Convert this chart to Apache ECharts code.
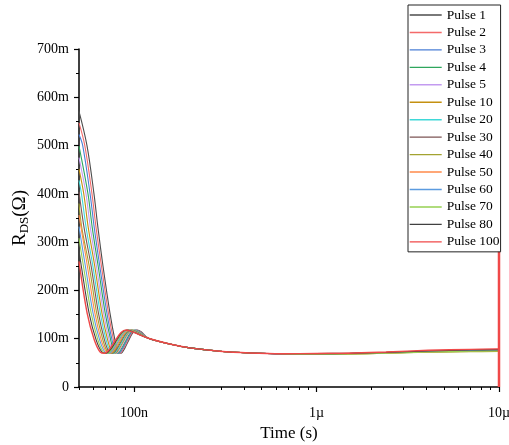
<!DOCTYPE html>
<html>
<head>
<meta charset="utf-8">
<script src="https://cdn.jsdelivr.net/npm/echarts@6/dist/echarts.min.js"></script>
<style>
  html, body { margin: 0; padding: 0; background: #fff; }
  #chart { width: 509px; height: 445px; }
</style>
</head>
<body>
<div id="chart"></div>
<script>
// Drain-source resistance transients, time in ns, resistance in mΩ
const pulseNames = ['Pulse 1', 'Pulse 2', 'Pulse 3', 'Pulse 4', 'Pulse 5', 'Pulse 10', 'Pulse 20',
  'Pulse 30', 'Pulse 40', 'Pulse 50', 'Pulse 60', 'Pulse 70', 'Pulse 80', 'Pulse 100'];

const pulse1 = [[50,571],[55.3,500],[60.4,400],[63.5,330],[67.7,250],[73.9,153],[78.6,98],[82,72],[85,70],[89,80],[94,98],[99,113],[104,118],[110,114],[120,101],[157,89],[202,81],[295,74],[430,70.5],[652,69],[1000,69],[1500,69.5],[2400,71.5],[4100,74.5],[7000,76.5],[10000,77]];
const pulse2 = [[50,547],[53.8,500],[58.9,400],[62,330],[66.4,250],[72.5,153],[77.2,98],[80.7,72],[83.8,70],[87.8,80],[92.9,98],[97.9,113],[103,118],[109.1,114],[120,101],[157,89],[202,81],[295,74],[430,70.5],[652,69],[1000,69.5],[1500,70],[2400,72],[4100,75],[7000,77],[10000,78]];
const pulse3 = [[50,523],[52.4,500],[57.5,400],[60.6,330],[65,250],[71.1,153],[75.8,98],[79.5,72],[82.5,70],[86.7,80],[91.8,98],[96.8,113],[101.9,118],[108.2,114],[120,101],[157,89],[202,81],[295,74],[430,70.5],[652,69],[1000,68.5],[1500,69],[2400,71],[4100,74],[7000,75.5],[10000,76]];
const pulse4 = [[50,499],[56,400],[59.1,330],[63.7,250],[69.6,153],[74.5,98],[78.2,72],[81.3,70],[85.5,80],[90.7,98],[95.8,113],[100.9,118],[107.2,114],[120,101],[157,89],[202,81],[295,74],[430,70.5],[652,69],[1000,69],[1500,69.5],[2400,71.5],[4100,74],[7000,76],[10000,77]];
const pulse5 = [[50,475],[54.6,400],[57.7,330],[62.3,250],[68.2,153],[73.1,98],[76.9,72],[80.1,70],[84.4,80],[89.5,98],[94.7,113],[99.8,118],[106.3,114],[120,101],[157,89],[202,81],[295,74],[430,70.5],[652,69],[1000,68.5],[1500,69],[2400,71],[4100,73.5],[7000,75],[10000,76]];
const pulse10 = [[50,451],[53.1,400],[56.2,330],[61,250],[66.8,153],[71.7,98],[75.7,72],[78.8,70],[83.2,80],[88.4,98],[93.6,113],[98.8,118],[105.4,114],[120,101],[157,89],[202,81],[295,74],[430,70.5],[652,69],[1000,68],[1500,68.5],[2400,70],[4100,72.5],[7000,73.5],[10000,74]];
const pulse20 = [[50,428],[51.6,400],[54.7,330],[59.6,250],[65.4,153],[70.3,98],[74.4,72],[77.6,70],[82.1,80],[87.3,98],[92.5,113],[97.8,118],[104.5,114],[120,101],[157,89],[202,81],[295,74],[430,70.5],[652,69],[1000,69],[1500,69],[2400,71],[4100,74],[7000,75.5],[10000,76]];
const pulse30 = [[50,404],[53.3,330],[58.3,250],[63.9,153],[68.9,98],[73.1,72],[76.4,70],[80.9,80],[86.2,98],[91.5,113],[96.7,118],[103.5,114],[120,101],[157,89],[202,81],[295,74],[430,70.5],[652,69],[1000,69.5],[1500,70],[2400,71.5],[4100,74.5],[7000,76.5],[10000,77]];
const pulse40 = [[50,380],[51.8,330],[56.9,250],[62.5,153],[67.5,98],[71.8,72],[75.2,70],[79.8,80],[85.1,98],[90.4,113],[95.7,118],[102.6,114],[120,101],[157,89],[202,81],[295,74],[430,70.5],[652,69],[1000,68],[1500,68.5],[2400,70],[4100,72],[7000,73],[10000,73.5]];
const pulse50 = [[50,356],[55.6,250],[61.1,153],[66.1,98],[70.6,72],[73.9,70],[78.6,80],[84,98],[89.3,113],[94.6,118],[101.7,114],[120,101],[157,89],[202,81],[295,74],[430,70.5],[652,69],[1000,68.5],[1500,69],[2400,70.5],[4100,73],[7000,74.5],[10000,75]];
const pulse60 = [[50,332],[54.2,250],[59.7,153],[64.8,98],[69.3,72],[72.7,70],[77.5,80],[82.9,98],[88.2,113],[93.6,118],[100.8,114],[120,101],[157,89],[202,81],[295,74],[430,70.5],[652,69],[1000,69],[1500,69.5],[2400,71],[4100,74],[7000,75.5],[10000,76]];
const pulse70 = [[50,308],[52.9,250],[58.3,153],[63.4,98],[68,72],[71.5,70],[76.3,80],[81.7,98],[87.2,113],[92.6,118],[99.8,114],[120,101],[157,89],[202,81],[295,74],[430,70.5],[652,69],[1000,68],[1500,68.5],[2400,70],[4100,72.5],[7000,74],[10000,74.5]];
const pulse80 = [[50,284],[51.5,250],[56.8,153],[62,98],[66.8,72],[70.2,70],[75.2,80],[80.6,98],[86.1,113],[91.5,118],[98.9,114],[120,101],[157,89],[202,81],[295,74],[430,70.5],[652,69],[1000,69],[1500,69.5],[2400,71.5],[4100,74.5],[7000,76.5],[10000,77]];
const pulse100 = [[50,260],[55.4,153],[60.6,98],[65.5,72],[69,70],[74,80],[79.5,98],[85,113],[90.5,118],[98,114],[120,101],[157,89],[202,81],[295,74],[430,70.5],[652,69],[1000,69.5],[1500,70],[2400,72.5],[4100,76],[7000,78],[10000,79]];
// final trace of pulse 100 jumps vertically at the end of the window
const pulse100End = [[10000,0],[10000,700]];

const pulseData = [pulse1, pulse2, pulse3, pulse4, pulse5, pulse10, pulse20,
  pulse30, pulse40, pulse50, pulse60, pulse70, pulse80, pulse100];

const xLabelTicks = [100, 1000, 10000];
const xMinorTicks = [50, 60, 70, 80, 90, 200, 300, 400, 500, 600, 700, 800, 900,
  2000, 3000, 4000, 5000, 6000, 7000, 8000, 9000];

const colors = ['#4d4d4d', '#f46a6a', '#4a7fd6', '#2ea65c', '#c39bf0', '#c49010', '#3fd8d8',
  '#7d5555', '#a3a331', '#ff8a4a', '#5b9be0', '#96d052', '#404040', '#f04848'];

const FONT = '"Liberation Serif", "Times New Roman", serif';

const series = pulseData.map((d, i) => ({
  name: pulseNames[i],
  type: 'line',
  data: d,
  symbol: 'none',
  smooth: 0.35,
  xAxisIndex: 0,
  yAxisIndex: 0,
  lineStyle: { color: colors[i], width: i === pulseData.length - 1 ? 1.4 : 1.1 },
  itemStyle: { color: colors[i] }
}));
series.push({
  name: 'Pulse 100',
  type: 'line',
  data: pulse100End,
  symbol: 'none',
  xAxisIndex: 0,
  yAxisIndex: 0,
  lineStyle: { color: colors[13], width: 2.5 },
  itemStyle: { color: colors[13] }
});

function timeLabel(v) {
  if (v >= 1000) return (v / 1000) + 'µ';
  return v + 'n';
}

const chart = echarts.init(document.getElementById('chart'), null, { renderer: 'canvas' });
chart.setOption({
  animation: false,
  backgroundColor: '#fff',
  grid: { left: 79, right: 10, top: 49, bottom: 58, outerBoundsMode: 'none' },
  legend: {
    data: pulseNames,
    orient: 'vertical',
    left: 408,
    top: 5,
    padding: [3, 1, 3, 1],
    itemWidth: 32,
    itemHeight: 14,
    itemGap: 3.45,
    borderColor: '#222',
    borderWidth: 1,
    borderRadius: 0,
    backgroundColor: '#fff',
    itemStyle: { opacity: 0 },
    lineStyle: { width: 1.4 },
    textStyle: { fontFamily: FONT, fontSize: 13.5, color: '#000' }
  },
  xAxis: [
    {
      type: 'log',
      logBase: 10,
      min: 50,
      max: 10000,
      name: 'Time (s)',
      nameLocation: 'middle',
      nameGap: 35,
      nameTextStyle: { fontFamily: FONT, fontSize: 17, color: '#000' },
      axisLine: { show: true, lineStyle: { color: '#000', width: 1.5 } },
      axisTick: { show: true, customValues: xLabelTicks, length: 5, lineStyle: { color: '#000', width: 1.2 } },
      axisLabel: { customValues: xLabelTicks, formatter: timeLabel, margin: 19,
        fontFamily: FONT, fontSize: 14, color: '#000' },
      splitLine: { show: false },
      minorTick: { show: false }
    },
    {
      type: 'log',
      logBase: 10,
      min: 50,
      max: 10000,
      position: 'bottom',
      axisLine: { show: false },
      axisTick: { show: true, customValues: xMinorTicks, length: 3, lineStyle: { color: '#000', width: 1 } },
      axisLabel: { show: false },
      splitLine: { show: false }
    }
  ],
  yAxis: {
    type: 'value',
    min: 0,
    max: 700,
    interval: 100,
    name: '{r|R}{s|DS}{r|(Ω)}',
    nameLocation: 'middle',
    nameGap: 48,
    nameMoveOverlap: false,
    nameTextStyle: {
      fontFamily: FONT, color: '#000',
      rich: {
        r: { fontFamily: FONT, fontSize: 19, color: '#000' },
        s: { fontFamily: FONT, fontSize: 13, color: '#000', verticalAlign: 'bottom', padding: [8, 0, 0, 0] }
      }
    },
    axisLine: { show: true, lineStyle: { color: '#000', width: 1.5 } },
    axisTick: { show: true, length: 5, lineStyle: { color: '#000', width: 1.2 } },
    minorTick: { show: true, splitNumber: 2, length: 3, lineStyle: { color: '#000', width: 1 } },
    axisLabel: { formatter: v => (v === 0 ? '0' : v + 'm'), margin: 10,
      fontFamily: FONT, fontSize: 14, color: '#000' },
    splitLine: { show: false }
  },
  series: series
});
</script>
</body>
</html>
